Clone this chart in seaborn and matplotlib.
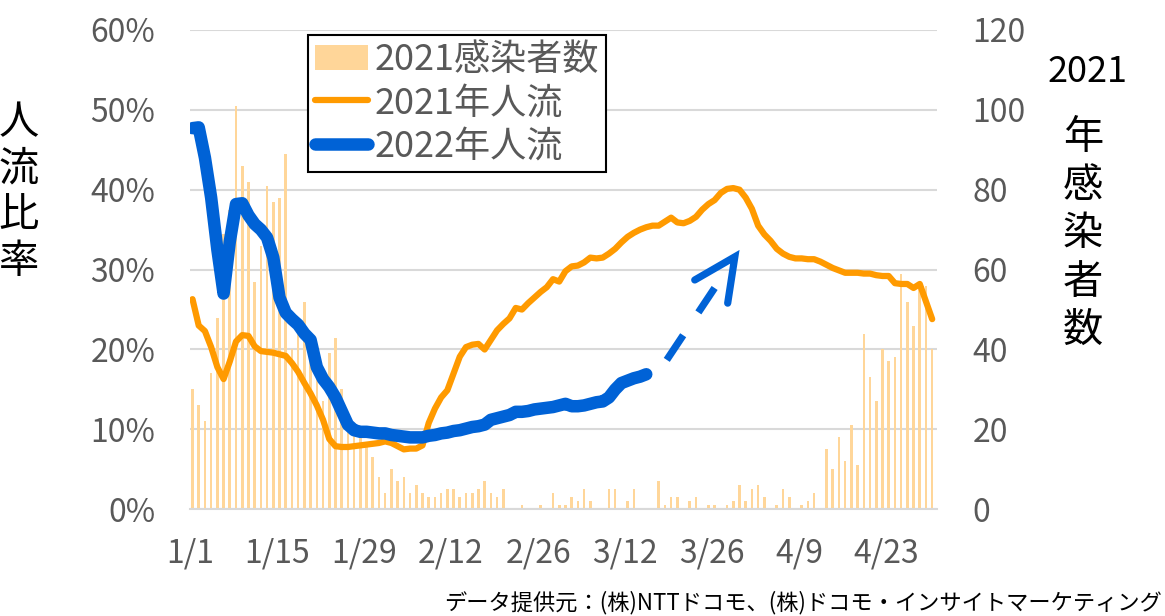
import matplotlib
matplotlib.use("Agg")
import matplotlib.pyplot as plt
import seaborn as sns
import numpy as np

# daily values, 2021-01-01 .. 2021-04-30 (120 days)
cases_2021 = [30, 26, 22, 34, 48, 69, 75, 101, 86, 82, 57, 66, 81, 77, 78, 89,
              40, 45, 52, 40, 35, 27, 39, 43, 30, 24, 20, 18, 16, 13,
              8, 4, 10, 7, 8, 4, 6, 4, 3, 3, 4, 5, 5, 3, 4, 4,
              5, 7, 4, 3, 5, 0, 0, 1, 0, 0, 1, 0, 4, 1, 1,
              3, 2, 5, 2, 0, 0, 5, 5, 0, 2, 5, 0, 0, 0, 7,
              1, 3, 3, 0, 2, 3, 0, 1, 1, 0, 1, 2, 6, 2, 5, 6,
              3, 0, 1, 5, 3, 0, 1, 2, 4, 0, 15, 10, 18, 12,
              21, 11, 44, 33, 27, 40, 37, 38, 59, 52, 46, 56, 56, 40]

flow_2021 = [26.3, 23.0, 22.3, 20.3, 17.8, 16.3, 18.5, 21.0, 21.8, 21.7,
             20.4, 19.8, 19.7, 19.6, 19.4, 19.2, 18.3, 17.2, 15.8, 14.5,
             13.0, 11.2, 8.8, 7.9, 7.8, 7.8, 7.9, 8.0, 8.1, 8.2,
             8.3, 8.5, 8.3, 7.9, 7.5, 7.6, 7.6, 8.0, 10.8, 12.6,
             14.0, 14.9, 17.0, 19.1, 20.3, 20.6, 20.7, 20.0, 21.2, 22.4,
             23.2, 23.9, 25.2, 25.0, 25.8, 26.5, 27.2, 27.8, 28.8, 28.5,
             29.8, 30.4, 30.5, 30.9, 31.5, 31.4, 31.5, 32.0, 32.6, 33.4,
             34.1, 34.6, 35.0, 35.3, 35.5, 35.5, 36.0, 36.5, 35.9, 35.8,
             36.1, 36.6, 37.5, 38.2, 38.7, 39.6, 40.1, 40.2, 40.0, 39.0,
             37.6, 35.5, 34.4, 33.6, 32.6, 32.0, 31.6, 31.4, 31.4, 31.3,
             31.3, 31.0, 30.6, 30.2, 29.9, 29.6, 29.6, 29.6, 29.5, 29.5,
             29.3, 29.2, 29.2, 28.3, 28.2, 28.2, 27.7, 28.2, 26.0, 23.8]

flow_2022 = [47.7, 47.8, 44.0, 39.0, 32.5, 27.0, 33.5, 38.2, 38.3, 36.8,
             35.7, 35.0, 34.0, 31.5, 26.5, 24.6, 23.8, 23.1, 22.0, 21.2,
             17.8, 16.3, 15.3, 14.0, 12.3, 10.6, 9.9, 9.7, 9.7, 9.6,
             9.5, 9.5, 9.3, 9.2, 9.1, 9.0, 9.0, 9.0, 9.2, 9.3,
             9.5, 9.6, 9.8, 9.9, 10.1, 10.3, 10.4, 10.6, 11.2, 11.4,
             11.6, 11.8, 12.2, 12.2, 12.3, 12.5, 12.6, 12.7, 12.8, 13.0,
             13.2, 12.9, 12.9, 13.0, 13.2, 13.4, 13.5, 14.0, 15.0, 15.8,
             16.1, 16.4, 16.6, 16.9]

tick_days = [0, 14, 28, 42, 56, 70, 84, 98, 112]
tick_labels = ["1/1", "1/15", "1/29", "2/12", "2/26", "3/12", "3/26", "4/9", "4/23"]

BAR = "#FFD699"
ORANGE = "#FF9A00"
BLUE = "#0062D6"
GRID = "#D9D9D9"
TXT = "#595959"

sns.set_style("white")
plt.rcParams["font.family"] = ["Noto Sans CJK JP", "DejaVu Sans"]

fig = plt.figure(figsize=(11.65, 6.16), dpi=100)
ax = fig.add_axes([0.1631, 0.1732, 0.6408, 0.7783])

pos = np.arange(len(cases_2021)) + 0.4

# bars on the primary axes (drawn underneath), right-hand scale
sns.barplot(x=pos, y=cases_2021, native_scale=True, width=0.42, color=BAR,
            saturation=1, linewidth=0, errorbar=None, label="2021感染者数", ax=ax)
if ax.get_legend() is not None:
    ax.get_legend().remove()

ax2 = ax.twinx()
sns.lineplot(x=pos, y=flow_2021, color=ORANGE, lw=4.5, label="2021年人流",
             solid_capstyle="round", ax=ax2)
sns.lineplot(x=pos[:len(flow_2022)], y=flow_2022, color=BLUE, lw=9, label="2022年人流",
             solid_capstyle="round", solid_joinstyle="round", ax=ax2)

# dashed arrow continuing the 2022 line (annotation)
ax2.annotate("", xy=(84.4, 27.7), xytext=(76.7, 18.7),
             arrowprops=dict(arrowstyle="-", color=BLUE, lw=5.2,
                             linestyle=(0, (4.1, 3.8)), shrinkA=0, shrinkB=0,
                             capstyle="butt"))
ax2.plot([81.2, 87.65, 86.5], [28.7, 31.6, 25.8], color=BLUE, lw=5.2,
         solid_capstyle="round", solid_joinstyle="miter")

ax.set_xlim(0, 120.1)
ax.set_ylim(0, 120)
ax2.set_ylim(0, 60)
ax.set_yticks(range(0, 121, 20))
ax2.set_yticks(range(0, 61, 10))
ax2.set_yticklabels([f"{v}%" for v in range(0, 61, 10)])
ax.set_xticks(tick_days)
ax.set_xticklabels(tick_labels)

ax.yaxis.tick_right()
ax2.yaxis.tick_left()
ax.tick_params(axis="y", length=0, pad=26, labelsize=23, labelcolor=TXT)
ax2.tick_params(axis="y", length=0, pad=25, labelsize=23, labelcolor=TXT)
ax.tick_params(axis="x", length=7, width=1.5, color=GRID, pad=13, labelsize=23, labelcolor=TXT)
ax.set_xlabel("")
ax.set_ylabel("")
ax2.set_ylabel("")

ax.grid(axis="y", color=GRID, lw=1.5)
ax.grid(axis="x", visible=False)
ax.set_axisbelow(True)
for s in ["top", "left", "right"]:
    ax.spines[s].set_visible(False)
ax.spines["bottom"].set_color(GRID)
ax.spines["bottom"].set_linewidth(1.5)
for s in ax2.spines.values():
    s.set_visible(False)

h1, l1 = ax.get_legend_handles_labels()
h2, l2 = ax2.get_legend_handles_labels()
if ax2.get_legend() is not None:
    ax2.get_legend().remove()
leg = ax2.legend(h1 + h2, l1 + l2, loc="upper left", bbox_to_anchor=(0.158, 0.99),
                 fontsize=26, frameon=True, fancybox=False, framealpha=1,
                 edgecolor="black", handlelength=1.45, handletextpad=0.2,
                 labelspacing=0.2, borderpad=0.2, borderaxespad=0)
leg.get_frame().set_linewidth(1.5)
for t in leg.get_texts():
    t.set_color(TXT)

# axis titles, stacked vertically
fig.text(19 / 1165, 1 - 192 / 616, "人\n流\n比\n率", ha="center", va="center",
         fontsize=29, linespacing=1.17, color="black")
fig.text(1088 / 1165, 1 - 72 / 616, "2021", ha="center", va="center",
         fontsize=26, color="black")
fig.text(1083 / 1165, 1 - 234 / 616, "年\n感\n染\n者\n数", ha="center", va="center",
         fontsize=29, linespacing=1.23, color="black")
fig.text(1162 / 1165, 1 - 603 / 616, "データ提供元：(株)NTTドコモ、(株)ドコモ・インサイトマーケティング",
         ha="right", va="center", fontsize=16, color="black")

fig.savefig("out.png", dpi=100)
